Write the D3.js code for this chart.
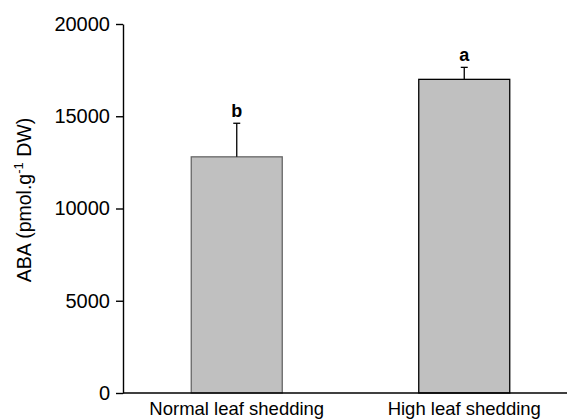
<!DOCTYPE html>
<html>
<head>
<meta charset="utf-8">
<script src="https://cdn.jsdelivr.net/npm/d3@7"></script>
<style>
  body { margin: 0; background: #fff; }
  svg text { font-family: "Liberation Sans", Arial, sans-serif; fill: #000; }
</style>
</head>
<body>
<svg id="chart" width="567" height="419"></svg>
<script>
// data
var categories = ["Normal leaf shedding", "High leaf shedding"];
var means = [12800, 17000];
var errors = [1820, 650];
var letters = ["b", "a"];
var yTicks = [0, 5000, 10000, 15000, 20000];

var barStroke = ["#666666", "#000000"];

var svg = d3.select("#chart");

var x = d3.scaleBand()
    .domain(categories)
    .range([123, 578])
    .paddingInner(0.6)
    .paddingOuter(0.3);

var y = d3.scaleLinear()
    .domain([0, 20000])
    .range([393, 24]);

// bars
svg.selectAll(".bar")
  .data(means)
  .enter()
  .append("rect")
    .attr("x", function(d, i) { return x(categories[i]); })
    .attr("y", function(d) { return y(d); })
    .attr("width", x.bandwidth())
    .attr("height", function(d) { return y(0) - y(d); })
    .attr("fill", "#c0c0c0")
    .attr("stroke", function(d, i) { return barStroke[i]; })
    .attr("stroke-width", 1.3);

// error bars (upper only)
var err = svg.selectAll(".err")
  .data(means)
  .enter()
  .append("g");

err.append("line")
    .attr("x1", function(d, i) { return x(categories[i]) + x.bandwidth() / 2; })
    .attr("x2", function(d, i) { return x(categories[i]) + x.bandwidth() / 2; })
    .attr("y1", function(d) { return y(d); })
    .attr("y2", function(d, i) { return y(d + errors[i]); })
    .attr("stroke", "#000")
    .attr("stroke-width", 1.3);

err.append("line")
    .attr("x1", function(d, i) { return x(categories[i]) + x.bandwidth() / 2 - 3.5; })
    .attr("x2", function(d, i) { return x(categories[i]) + x.bandwidth() / 2 + 3.5; })
    .attr("y1", function(d, i) { return y(d + errors[i]); })
    .attr("y2", function(d, i) { return y(d + errors[i]); })
    .attr("stroke", "#000")
    .attr("stroke-width", 1.3);

// significance letters
svg.selectAll(".letter")
  .data(means)
  .enter()
  .append("text")
    .attr("x", function(d, i) { return x(categories[i]) + x.bandwidth() / 2; })
    .attr("y", function(d, i) { return y(d + errors[i]) - 6; })
    .attr("text-anchor", "middle")
    .style("font-size", "18px")
    .style("font-weight", "bold")
    .text(function(d, i) { return letters[i]; });

// y axis
var yAxis = svg.append("g")
    .attr("transform", "translate(123,0)")
    .call(d3.axisLeft(y).tickValues(yTicks).tickFormat(d3.format("d"))
      .tickSize(7).tickPadding(6).tickSizeOuter(0));
yAxis.selectAll("text").style("font-size", "20px").attr("fill", "#000");
yAxis.selectAll("line, path").attr("stroke", "#000").attr("stroke-width", 1.4);

// x axis line
svg.append("line")
    .attr("x1", 123).attr("x2", 567)
    .attr("y1", y(0)).attr("y2", y(0))
    .attr("stroke", "#000")
    .attr("stroke-width", 1.4);

// category labels
svg.selectAll(".cat")
  .data(categories)
  .enter()
  .append("text")
    .attr("x", function(d) { return x(d) + x.bandwidth() / 2; })
    .attr("y", 415)
    .attr("text-anchor", "middle")
    .style("font-size", "18.5px")
    .text(function(d) { return d; });

// y label
var ylab = svg.append("text")
    .attr("transform", "translate(31,200) rotate(-90)")
    .attr("text-anchor", "middle")
    .style("font-size", "19.5px");
ylab.append("tspan").text("ABA (pmol.g");
ylab.append("tspan").attr("dy", -8).style("font-size", "13px").text("-1");
ylab.append("tspan").attr("dy", 8).text(" DW)");
</script>
</body>
</html>
